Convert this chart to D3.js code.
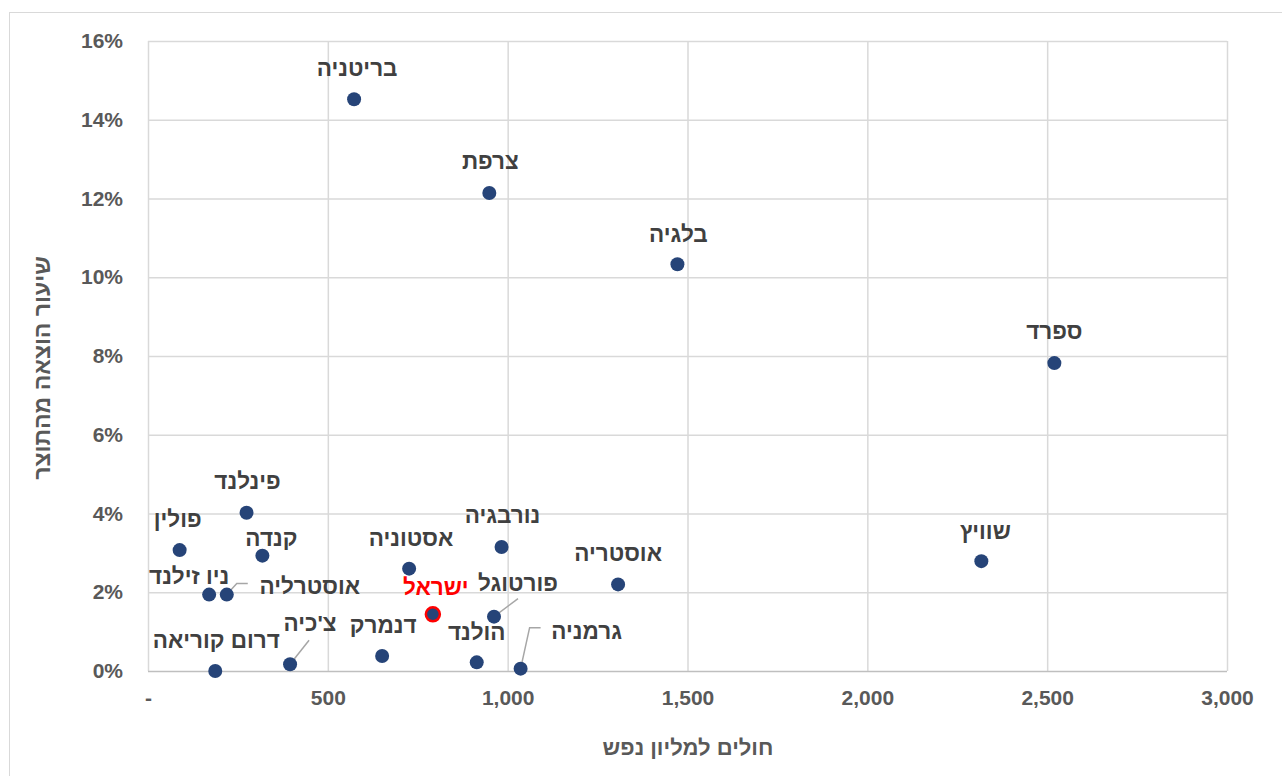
<!DOCTYPE html>
<html>
<head>
<meta charset="utf-8">
<script src="https://cdn.jsdelivr.net/npm/d3@7"></script>
<style>
  body { margin: 0; background: #fff; }
  text { font-family: "Liberation Sans", "DejaVu Sans", sans-serif; }
</style>
</head>
<body>
<div id="chart"></div>
<script>
// data
const countries = ['בריטניה', 'צרפת', 'בלגיה', 'ספרד', 'שוויץ', 'אוסטריה', 'נורבגיה', 'פורטוגל', 'גרמניה', 'הולנד',
  'ישראל', 'אסטוניה', 'דנמרק', "צ'כיה", 'דרום קוריאה', 'אוסטרליה', 'ניו זילנד', 'קנדה', 'פולין', 'פינלנד']
const casesPerMillion = [573, 949, 1472, 2520, 2317, 1307, 983, 962, 1036, 914,
  792, 726, 651, 395, 187, 219, 170, 318, 88, 274]
const spendingShare = [0.1452, 0.1214, 0.1033, 0.0782, 0.0279, 0.0220, 0.0315, 0.0138, 0.0006, 0.0022,
  0.0144, 0.0260, 0.0038, 0.0017, 0.0000, 0.0194, 0.0194, 0.0293, 0.0307, 0.0402]
const xTicks = [0, 500, 1000, 1500, 2000, 2500, 3000]
const yTicks = [0, 0.02, 0.04, 0.06, 0.08, 0.10, 0.12, 0.14, 0.16]
const highlight = 'ישראל'

// label layout (offset of label centre from the dot, optional leader line)
const labelLayout = {
  'בריטניה': [3, -31], 'צרפת': [1, -32], 'בלגיה': [1, -30], 'ספרד': [0, -32], 'שוויץ': [4, -30],
  'אוסטריה': [0, -31], 'נורבגיה': [1, -32], 'פינלנד': [1, -32], 'פולין': [-2, -31], 'קנדה': [9, -18],
  'אסטוניה': [2, -31], 'ניו זילנד': [-20, -18], 'ישראל': [3, -27], 'הולנד': [0, -30], 'דנמרק': [1, -31],
  'דרום קוריאה': [1, -31],
  'אוסטרליה': [83, -8, true], 'פורטוגל': [24, -34, true], 'גרמניה': [66, -38, true], "צ'כיה": [20, -41, true]
}

const width = 1282, height = 776
const margin = { left: 148, right: 55, top: 41, bottom: 105 }

const svg = d3.select('#chart').append('svg')
  .attr('width', width)
  .attr('height', height)

// chart border
svg.append('rect')
  .attr('x', 9.5).attr('y', 12.5)
  .attr('width', 1300).attr('height', 800)
  .attr('fill', 'none').attr('stroke', '#d9d9d9').attr('stroke-width', 1)

const x = d3.scaleLinear().domain([0, 3000]).range([margin.left, width - margin.right])
const y = d3.scaleLinear().domain([0, 0.16]).range([height - margin.bottom, margin.top])

// grid
svg.append('g').selectAll('line').data(xTicks).enter().append('line')
  .attr('x1', d => x(d) + 0.5).attr('x2', d => x(d) + 0.5)
  .attr('y1', y(0.16)).attr('y2', y(0))
  .attr('stroke', '#d9d9d9').attr('stroke-width', 1.5)
svg.append('g').selectAll('line').data(yTicks).enter().append('line')
  .attr('x1', x(0)).attr('x2', x(3000))
  .attr('y1', d => y(d) + 0.5).attr('y2', d => y(d) + 0.5)
  .attr('stroke', d => d === 0 ? '#bfbfbf' : '#d9d9d9').attr('stroke-width', 1.5)

// axes
const xAxis = svg.append('g')
  .attr('transform', `translate(0, ${y(0) + 13})`)
  .call(d3.axisBottom(x).tickValues(xTicks).tickSize(0)
    .tickFormat(d => d === 0 ? '-' : d3.format(',')(d)))
xAxis.select('.domain').remove()
xAxis.selectAll('text')
  .attr('dy', '0.85em')
  .attr('font-size', 21).attr('font-weight', 'bold').attr('fill', '#595959')

const yAxis = svg.append('g')
  .attr('transform', `translate(${x(0) - 22}, 0)`)
  .call(d3.axisLeft(y).tickValues(yTicks).tickSize(0).tickFormat(d3.format('.0%')))
yAxis.select('.domain').remove()
yAxis.selectAll('text')
  .attr('font-size', 21).attr('font-weight', 'bold').attr('fill', '#595959')

// axis titles
svg.append('text')
  .attr('x', 688).attr('y', 755)
  .attr('text-anchor', 'middle').attr('direction', 'rtl')
  .attr('font-size', 22).attr('font-weight', 'bold').attr('fill', '#595959')
  .text('חולים למליון נפש')
svg.append('text')
  .attr('transform', 'translate(50, 368) rotate(-90)')
  .attr('text-anchor', 'middle').attr('direction', 'rtl')
  .attr('font-size', 23).attr('font-weight', 'bold').attr('fill', '#595959')
  .text('שיעור הוצאה מהתוצר')

const data = countries.map((c, i) => ({ name: c, cx: casesPerMillion[i], sy: spendingShare[i] }))

// leader lines
data.forEach(d => {
  const l = labelLayout[d.name]
  if (!l || !l[2]) return
  const px = x(d.cx), py = y(d.sy)
  let pts
  if (d.name === 'אוסטרליה') pts = [[px, py], [px + 10, py - 11], [px + 21, py - 11]]
  else if (d.name === 'גרמניה') pts = [[px, py], [px + 9, py - 41], [px + 20, py - 41]]
  else if (d.name === 'פורטוגל') pts = [[px, py], [px + 24, py - 18]]
  else pts = [[px, py], [px + 19, py - 24]]
  svg.append('path')
    .attr('d', d3.line()(pts))
    .attr('fill', 'none').attr('stroke', '#a6a6a6').attr('stroke-width', 1.5)
})

// points
svg.append('g').selectAll('circle').data(data).enter().append('circle')
  .attr('cx', d => x(d.cx))
  .attr('cy', d => y(d.sy))
  .attr('r', 7)
  .attr('fill', '#264478')
  .attr('stroke', d => d.name === highlight ? '#ff0000' : 'none')
  .attr('stroke-width', 2.5)

// labels
svg.append('g').selectAll('text').data(data).enter().append('text')
  .attr('x', d => x(d.cx) + labelLayout[d.name][0])
  .attr('y', d => y(d.sy) + labelLayout[d.name][1])
  .attr('dy', '0.35em')
  .attr('text-anchor', 'middle')
  .attr('direction', 'rtl')
  .attr('font-size', 22.5).attr('font-weight', 'bold')
  .attr('fill', d => d.name === highlight ? '#ff0000' : '#404040')
  .text(d => d.name)
</script>
</body>
</html>
